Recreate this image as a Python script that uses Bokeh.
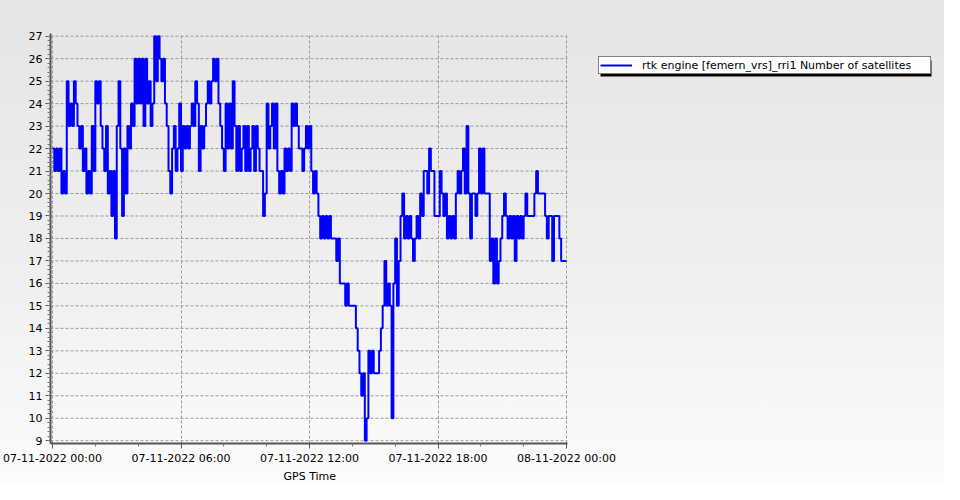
import numpy as np
import pandas as pd
from bokeh.plotting import figure
from bokeh.models import (FixedTicker, SingleIntervalTicker, DatetimeTickFormatter,
                          Legend, LegendItem, BoxAnnotation, Range1d, ColumnDataSource, Title)
from bokeh.embed import file_html
from bokeh.resources import INLINE

# ---------------- data ----------------
series_label = "rtk engine [femern_vrs]_rri1 Number of satellites"
start_time = "2022-11-07 00:00"
end_time = "2022-11-08 00:00"
sample_minutes = 5
satellites = [
    22, 21, 22, 21, 22, 20, 21, 20, 25, 23,
    24, 23, 25, 24, 23, 22, 23, 21, 22, 20,
    21, 20, 23, 21, 25, 24, 25, 23, 22, 21,
    23, 20, 21, 19, 21, 18, 23, 25, 22, 19,
    22, 20, 23, 22, 24, 23, 26, 24, 26, 24,
    26, 23, 26, 24, 25, 23, 24, 27, 25, 27,
    26, 25, 26, 24, 23, 21, 20, 22, 23, 21,
    22, 24, 21, 23, 22, 23, 22, 23, 24, 23,
    25, 24, 21, 23, 22, 23, 24, 25, 24, 25,
    26, 25, 26, 24, 23, 22, 21, 24, 22, 24,
    22, 25, 23, 21, 23, 21, 22, 23, 21, 23,
    21, 22, 23, 21, 23, 22, 21, 21, 19, 20,
    24, 22, 23, 24, 22, 24, 21, 20, 21, 20,
    22, 21, 22, 21, 24, 23, 24, 23, 22, 22,
    21, 22, 23, 22, 23, 21, 20, 21, 20, 19,
    18, 19, 18, 19, 18, 19, 18, 18, 18, 17,
    18, 16, 16, 16, 15, 16, 15, 15, 15, 15,
    14, 13, 12, 11, 12, 9, 10, 13, 12, 13,
    12, 12, 12, 13, 14, 15, 17, 15, 16, 15,
    10, 16, 18, 15, 17, 19, 20, 18, 19, 18,
    19, 18, 17, 18, 19, 18, 20, 19, 21, 21,
    20, 22, 21, 21, 19, 19, 19, 21, 20, 19,
    20, 18, 19, 18, 19, 18, 20, 21, 20, 21,
    22, 20, 23, 20, 18, 20, 20, 19, 20, 22,
    20, 22, 20, 20, 20, 17, 18, 16, 18, 16,
    17, 18, 19, 20, 19, 18, 19, 18, 19, 17,
    19, 18, 19, 18, 19, 20, 19, 19, 19, 19,
    20, 21, 20, 20, 20, 20, 19, 18, 19, 19,
    17, 19, 19, 19, 18, 17, 17, 17, 17,
]
x_tick_times = ["2022-11-07 00:00", "2022-11-07 06:00", "2022-11-07 12:00",
                "2022-11-07 18:00", "2022-11-08 00:00"]
x_minor_times = ["2022-11-07 02:00", "2022-11-07 04:00", "2022-11-07 08:00",
                 "2022-11-07 10:00", "2022-11-07 14:00", "2022-11-07 16:00",
                 "2022-11-07 20:00", "2022-11-07 22:00"]
y_ticks = list(range(9, 28))
x_label = "GPS Time"

# ---------------- build ----------------
t0 = pd.Timestamp(start_time)
t1 = pd.Timestamp(end_time)
times = t0 + pd.to_timedelta(np.arange(len(satellites)) * sample_minutes, unit="min")
src = ColumnDataSource(dict(t=times, n=satellites))

def ms(s):
    return pd.Timestamp(s).timestamp() * 1000.0

FONT = "DejaVu Sans"
W, H = 944, 484
# frame spans 50..944 px horizontally; the time axis covers 00:00 at 52 px and 24:00 at 566 px
px_per_ms = 514.0 / (24 * 3600 * 1000)
x_start = t0 - pd.Timedelta(milliseconds=2 / px_per_ms)
x_end = t0 + pd.Timedelta(milliseconds=(W - 52) / px_per_ms)
axis_end = t1 + pd.Timedelta(milliseconds=1 / px_per_ms)

p = figure(width=W, height=H, output_backend="svg", toolbar_location=None,
           x_axis_type="datetime",
           x_range=Range1d(x_start, x_end),
           y_range=Range1d(8.876, 27.12),
           min_border_left=50, min_border_right=0, min_border_top=33, min_border_bottom=41)

p.background_fill_alpha = 0
p.border_fill_alpha = 0
p.outline_line_color = None
p.styles = {"background": "linear-gradient(to bottom, #e5e5e5 0%, #f0f0f0 60%, #fcfcfc 100%)"}

# horizontal grid lines limited to the time span
p.ygrid.visible = False
p.segment(x0=[x_start] * len(y_ticks), x1=[axis_end] * len(y_ticks), y0=y_ticks, y1=y_ticks,
          line_color="#9a9a9a", line_dash="3 2", line_width=1)

r = p.step("t", "n", source=src, mode="after", line_width=2, line_color="#0000ff")

p.xaxis.ticker = FixedTicker(ticks=[ms(s) for s in x_tick_times],
                             minor_ticks=[ms(s) for s in x_minor_times])
fmt = "%d-%m-%Y %H:%M"
p.xaxis.formatter = DatetimeTickFormatter(minutes=fmt, hourmin=fmt, hours=fmt, days=fmt,
                                          months=fmt, years=fmt)
p.xaxis.bounds = (x_start, axis_end)
p.yaxis.ticker = SingleIntervalTicker(interval=1, num_minor_ticks=5)

for ax in (p.xaxis[0], p.yaxis[0]):
    ax.axis_line_width = 2
    ax.axis_line_color = "#555555"
    ax.major_tick_line_color = "#555555"
    ax.minor_tick_line_color = "#777777"
    ax.major_tick_in = 0
    ax.major_tick_out = 5
    ax.minor_tick_in = 0
    ax.minor_tick_out = 3
    ax.major_label_text_font = FONT
    ax.major_label_text_font_size = "11px"
    ax.major_label_text_color = "#000000"
    ax.major_label_standoff = 3

# x axis title, centred under the time span (not the whole frame)
p.add_layout(Title(text=x_label, align="left", offset=233, standoff=0,
                   text_font=FONT, text_font_size="11px", text_font_style="normal",
                   text_color="#000000"), "below")

g = p.xgrid[0]
g.grid_line_color = "#9a9a9a"
g.grid_line_dash = "3 2"
g.grid_line_width = 1

# legend shadow (screen units relative to the frame, y upward from its bottom)
shadow = BoxAnnotation(left=550, right=881, bottom=443 - 76, top=443 - 60,
                       left_units="screen", right_units="screen",
                       top_units="screen", bottom_units="screen",
                       fill_color="black", fill_alpha=1, line_color=None)
p.add_layout(shadow)

legend = Legend(items=[LegendItem(label=series_label, renderers=[r])],
                location=(548, 369), orientation="vertical",
                label_text_font=FONT, label_text_font_size="11px", label_text_color="#000000",
                glyph_width=32, glyph_height=14, label_height=14, label_width=287,
                padding=1, margin=0, spacing=0, label_standoff=10,
                border_line_color="black", border_line_width=1,
                background_fill_color="white", background_fill_alpha=1)
p.add_layout(legend)

open("out.html", "w").write(file_html(p, INLINE))
